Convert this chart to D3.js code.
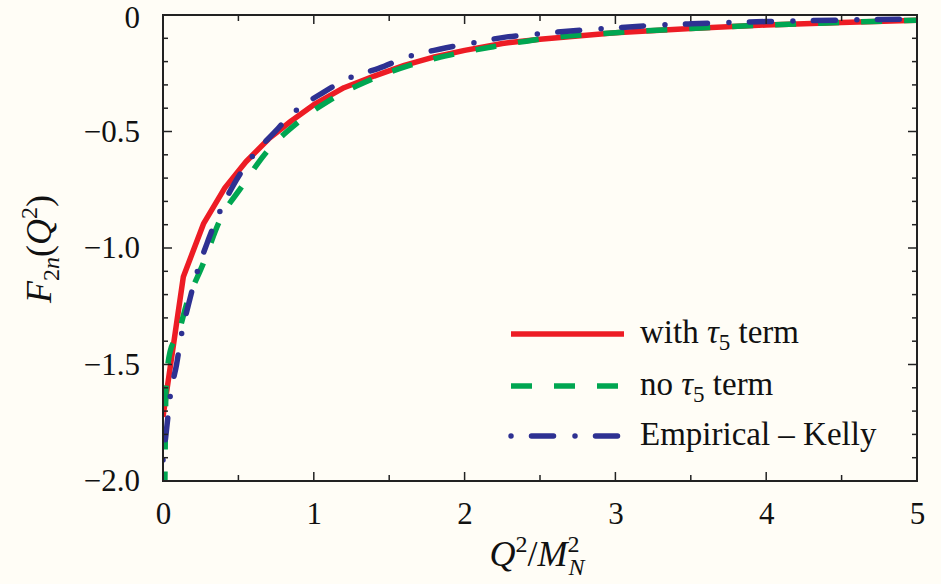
<!DOCTYPE html>
<html>
<head>
<meta charset="utf-8">
<script src="https://cdn.jsdelivr.net/npm/d3@7"></script>
<style>
  html, body { margin: 0; padding: 0; background: #fffdf6; }
  svg { display: block; }
  text { font-family: "Liberation Serif", "DejaVu Serif", serif; fill: #111; }
</style>
</head>
<body>
<svg id="chart" width="941" height="584"></svg>
<script>
// ---- data ----
const xTicks = [0, 1, 2, 3, 4, 5];
const yTicks = [0, -0.5, -1.0, -1.5, -2.0];
const yTickLabels = ["0", "\u22120.5", "\u22121.0", "\u22121.5", "\u22122.0"];

const withTau5X = [0, 0.135, 0.27, 0.41, 0.55, 0.70, 0.85, 1.0, 1.2, 1.4, 1.6, 1.8, 2.0, 2.25, 2.5, 3.0, 3.5, 4.0, 4.5, 5.0];
const withTau5Y = [-1.725, -1.123, -0.894, -0.742, -0.630, -0.532, -0.455, -0.385, -0.312, -0.262, -0.216, -0.180, -0.152, -0.122, -0.104, -0.076, -0.058, -0.043, -0.032, -0.022];

const noTau5X = [0.012, 0.02, 0.047, 0.10, 0.157, 0.267, 0.378, 0.522, 0.688, 0.887, 1.107, 1.373, 1.64, 1.90, 2.19, 2.46, 3.0, 3.5, 4.0, 4.5, 5.0];
const noTau5Y = [-2.05, -1.60, -1.445, -1.37, -1.24, -1.066, -0.88, -0.737, -0.587, -0.465, -0.365, -0.279, -0.215, -0.172, -0.136, -0.107, -0.076, -0.058, -0.043, -0.032, -0.022];

const kellyX = [0, 0.025, 0.047, 0.09, 0.124, 0.168, 0.228, 0.30, 0.374, 0.467, 0.588, 0.732, 0.88, 1.053, 1.24, 1.43, 1.64, 1.84, 2.06, 2.26, 2.47, 3.0, 3.3, 3.5, 4.0, 4.5, 5.0];
const kellyY = [-1.91, -1.77, -1.64, -1.50, -1.366, -1.245, -1.10, -0.966, -0.848, -0.730, -0.611, -0.508, -0.411, -0.336, -0.269, -0.229, -0.176, -0.146, -0.119, -0.096, -0.082, -0.055, -0.043, -0.038, -0.028, -0.022, -0.017];

const seriesNames = ["with \u03c4\u2085 term", "no \u03c4\u2085 term", "Empirical \u2013 Kelly"];

// ---- layout ----
const svg = d3.select("#chart");
const L = 163, R = 917, T = 15, B = 481;
const x = d3.scaleLinear().domain([0, 5]).range([L, R]);
const y = d3.scaleLinear().domain([-2, 0]).range([B, T]);
const FONT = '"Liberation Serif", "DejaVu Serif", serif';

svg.append("rect").attr("width", 941).attr("height", 584).attr("fill", "#fffdf6");

svg.append("defs").append("clipPath").attr("id", "clip")
  .append("rect").attr("x", L).attr("y", T).attr("width", R - L).attr("height", B - T);

const styles = [
  { color: "#ed1c24", dash: null, cap: "butt" },
  { color: "#00a651", dash: "21,22", cap: "butt" },
  { color: "#2e3192", dash: "0,20.5,22,21.5", cap: "round" }
];

const series = [
  d3.zip(withTau5X, withTau5Y),
  d3.zip(noTau5X, noTau5Y),
  d3.zip(kellyX, kellyY)
];

const line = d3.line().x(d => x(d[0])).y(d => y(d[1]));
const lineSmooth = d3.line().x(d => x(d[0])).y(d => y(d[1])).curve(d3.curveMonotoneX);

const g = svg.append("g").attr("clip-path", "url(#clip)");
series.forEach((s, i) => {
  g.append("path")
    .attr("d", i === 0 ? line(s) : lineSmooth(s))
    .attr("fill", "none")
    .attr("stroke", styles[i].color)
    .attr("stroke-width", 5.5)
    .attr("stroke-linecap", styles[i].cap)
    .attr("stroke-linejoin", "round")
    .attr("stroke-dasharray", styles[i].dash);
});

// ---- axes (ticks inward on all sides) ----
const xMinor = d3.range(0, 5.001, 0.5);
const yMinor = d3.range(-2, 0.001, 0.1);
const axisColor = "#222";
const axes = svg.append("g");

function isInt(v) { return Math.abs(v - Math.round(v)) < 1e-6; }
function isHalf(v) { return Math.abs(v * 2 - Math.round(v * 2)) < 1e-6; }

const xAxis = d3.axisBottom(x).tickValues(xTicks).tickSize(0).tickPadding(21).tickFormat(d3.format("d"));
const gx = svg.append("g").attr("transform", `translate(0,${B})`).call(xAxis);
gx.select(".domain").remove();
gx.attr("font-family", FONT);
gx.selectAll("text").style("font-family", FONT).style("font-size", "31px").attr("fill", "#111");

const yAxis = d3.axisLeft(y).tickValues(yTicks).tickSize(0).tickPadding(23)
  .tickFormat((d, i) => yTickLabels[i]);
const gy = svg.append("g").attr("transform", `translate(${L},0)`).call(yAxis);
gy.select(".domain").remove();
gy.attr("font-family", FONT);
gy.selectAll("text").style("font-family", FONT).style("font-size", "31px").attr("fill", "#111");
gy.selectAll(".tick").filter(d => d === 0).select("text").attr("dy", "0.4em");

xMinor.forEach(v => {
  const len = isInt(v) ? 9 : 6;
  const px = x(v);
  axes.append("line").attr("x1", px).attr("x2", px).attr("y1", B).attr("y2", B - len);
  axes.append("line").attr("x1", px).attr("x2", px).attr("y1", T).attr("y2", T + len);
});
yMinor.forEach(v => {
  const len = isHalf(v) ? 9 : 5;
  const py = y(v);
  axes.append("line").attr("x1", L).attr("x2", L + len).attr("y1", py).attr("y2", py);
  axes.append("line").attr("x1", R).attr("x2", R - len).attr("y1", py).attr("y2", py);
});
axes.selectAll("line").attr("stroke", axisColor).attr("stroke-width", 1.5);
axes.append("rect").attr("x", L).attr("y", T).attr("width", R - L).attr("height", B - T)
  .attr("fill", "none").attr("stroke", axisColor).attr("stroke-width", 2);

// ---- axis titles ----
const xt = svg.append("text").attr("x", 537).attr("y", 566).attr("text-anchor", "middle").style("font-size", "36px");
xt.append("tspan").attr("font-style", "italic").text("Q");
xt.append("tspan").attr("dy", -14).style("font-size", "24px").text("2");
xt.append("tspan").attr("dy", 14).text("/");
xt.append("tspan").attr("font-style", "italic").text("M");
xt.append("tspan").attr("dy", -14).style("font-size", "24px").text("2");
xt.append("tspan").attr("dy", 23).attr("dx", -11).attr("font-style", "italic").style("font-size", "24px").text("N");

const yt = svg.append("text").attr("transform", "translate(51,249) rotate(-90)").attr("text-anchor", "middle").style("font-size", "36px");
yt.append("tspan").attr("font-style", "italic").text("F");
yt.append("tspan").attr("dy", 8).style("font-size", "24px").text("2");
yt.append("tspan").attr("font-style", "italic").style("font-size", "24px").text("n");
yt.append("tspan").attr("dy", -8).text("(");
yt.append("tspan").attr("font-style", "italic").text("Q");
yt.append("tspan").attr("dy", -14).style("font-size", "24px").text("2");
yt.append("tspan").attr("dy", 14).text(")");

// ---- legend ----
const legY = [334, 386, 436];
const leg = svg.append("g");
legY.forEach((ly, i) => {
  leg.append("line").attr("x1", 511).attr("x2", 624).attr("y1", ly).attr("y2", ly)
    .attr("stroke", styles[i].color).attr("stroke-width", 5.5)
    .attr("stroke-linecap", styles[i].cap).attr("stroke-dasharray", styles[i].dash);
  const t = leg.append("text").attr("x", 640).attr("y", ly + 9).style("font-size", "33px");
  if (i < 2) {
    t.append("tspan").text(i === 0 ? "with " : "no ");
    t.append("tspan").attr("font-style", "italic").text("\u03c4");
    t.append("tspan").attr("dy", 7).style("font-size", "23px").text("5");
    t.append("tspan").attr("dy", -7).text(" term");
  } else {
    t.text(seriesNames[2]);
  }
});
</script>
</body>
</html>
